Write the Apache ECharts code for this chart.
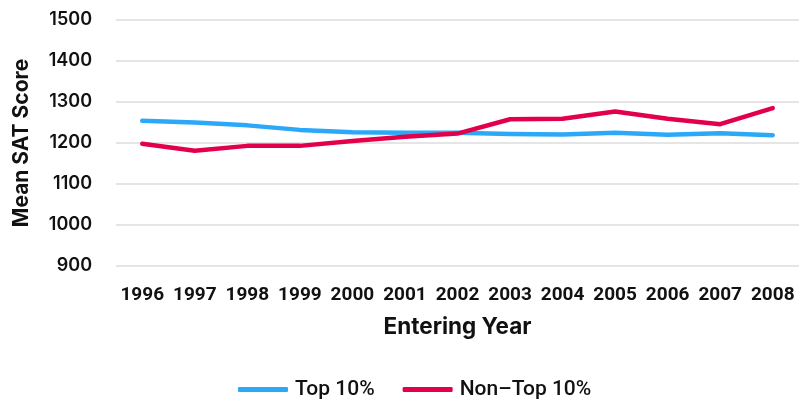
<!DOCTYPE html>
<html>
<head>
<meta charset="utf-8">
<script src="https://cdn.jsdelivr.net/npm/echarts@6/dist/echarts.min.js"></script>
<style>
  html, body { margin: 0; padding: 0; background: #fff; }
  #chart { width: 799px; height: 406px; }
</style>
</head>
<body>
<div id="chart"></div>
<script>
// Entering years (x categories)
const years = ['1996', '1997', '1998', '1999', '2000', '2001', '2002',
               '2003', '2004', '2005', '2006', '2007', '2008'];

// Mean SAT score by entering year
const top10 = [1254, 1250, 1243, 1232, 1226, 1225, 1225, 1222, 1221, 1225, 1220, 1224, 1219];
const nonTop10 = [1198, 1181, 1193, 1193, 1205, 1215, 1223, 1258, 1259, 1277, 1259, 1246, 1285];

// Y axis range and step
const yMin = 900;
const yMax = 1500;
const yStep = 100;

const WIDE = 'Inter';
const NARROW = 'Roboto';
const BLUE = '#2ba8f8';
const RED = '#e3004a';

const chart = echarts.init(document.getElementById('chart'), null, { renderer: 'canvas' });

chart.setOption({
  animation: false,
  backgroundColor: '#ffffff',
  textStyle: { fontFamily: WIDE, color: '#111' },
  grid: { left: 116, right: 0, top: 20, bottom: 140, containLabel: false },
  legend: {
    bottom: 1,
    left: 233,
    itemWidth: 50,
    itemHeight: 5,
    itemGap: 28,
    icon: 'roundRect',
    textStyle: { fontFamily: NARROW, fontSize: 21, fontWeight: 500, color: '#111', padding: [0, 0, 0, 2] },
    data: ['Top 10%', 'Non\u2013Top 10%']
  },
  xAxis: {
    type: 'category',
    data: years,
    boundaryGap: true,
    name: 'Entering Year',
    nameLocation: 'middle',
    nameGap: 50,
    nameTextStyle: { fontFamily: WIDE, fontSize: 22.5, fontWeight: 700, color: '#111' },
    axisLine: { show: false },
    axisTick: { show: false },
    axisLabel: { fontFamily: NARROW, fontSize: 19, fontWeight: 700, color: '#111', margin: 20, interval: 0 }
  },
  yAxis: {
    type: 'value',
    min: yMin,
    max: yMax,
    interval: yStep,
    name: 'Mean SAT Score',
    nameLocation: 'middle',
    nameGap: 84,
    nameTextStyle: { fontFamily: WIDE, fontSize: 21, fontWeight: 700, color: '#111' },
    axisLine: { show: false },
    axisTick: { show: false },
    axisLabel: {
      fontFamily: WIDE, fontSize: 18, fontWeight: 600, color: '#111', margin: 24,
      formatter: (v) => String(v)
    },
    splitLine: { lineStyle: { color: '#dcdcdc', width: 1.5 } }
  },
  series: [
    {
      name: 'Top 10%',
      type: 'line',
      data: top10,
      symbol: 'none',
      color: BLUE,
      lineStyle: { color: BLUE, width: 4.5, cap: 'round', join: 'round' }
    },
    {
      name: 'Non\u2013Top 10%',
      type: 'line',
      data: nonTop10,
      symbol: 'none',
      color: RED,
      lineStyle: { color: RED, width: 4.5, cap: 'round', join: 'round' }
    }
  ]
});
</script>
</body>
</html>
